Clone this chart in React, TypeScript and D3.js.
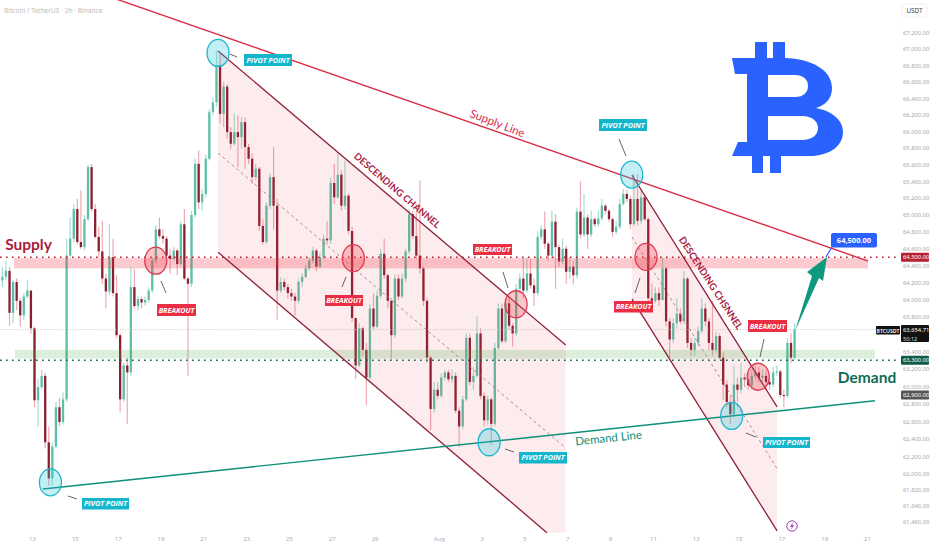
import React, { useEffect, useRef } from 'react';
import * as d3 from 'd3';

// 4h samples of the BTCUSDT candles. open = previous close
const firstOpen = 64250;
const closes = [
  64230, 64270, 64340, 63850, 64210, 63990, 63820, 64040, 64110, 63670, 62840, 62990, 63120, 62360, 61950, 62310,
  62760, 62590, 62850, 64520, 64720, 65070, 64680, 64620, 64950, 65570, 65070, 64740, 64570, 64250, 64100, 64500,
  64080, 63590, 62850, 63240, 63160, 64150, 63930, 64010, 63970, 64000, 64110, 64460, 64830, 64750, 64720, 64520,
  64480, 64580, 64420, 64890, 64250, 64190, 65000, 65610, 65150, 65250, 65670, 66230, 66350, 66800, 66210, 66540,
  65990, 65850, 65990, 65930, 66110, 65810, 65670, 65450, 65550, 64870, 64680, 65110, 65450, 65110, 64110, 64210,
  64150, 64080, 64040, 63990, 64210, 64270, 64370, 64460, 64580, 64390, 64500, 64720, 64700, 65380, 65210, 65480,
  65110, 65230, 64810, 63790, 63240, 63670, 63420, 63100, 63900, 63690, 64050, 64540, 64290, 63990, 63590, 64250,
  64040, 64250, 64570, 65010, 64750, 64520, 64370, 63990, 63330, 62740, 62960, 62890, 63100, 63160, 63080, 63120,
  62720, 62540, 62850, 63560, 63050, 63120, 63610, 62890, 62610, 62850, 62570, 63440, 63900, 63520, 63960, 63700,
  63610, 64130, 64250, 64110, 64310, 64170, 64080, 64740, 64830, 64660, 64520, 64920, 64620, 64450, 64600, 64330,
  64390, 64290, 65040, 64770, 64970, 64770, 64950, 64890, 64960, 65110, 65050, 64950, 64800, 64860, 65130, 65250,
  65190, 64890, 65190, 64930, 65210, 64950, 64020, 63990, 64080, 64000, 64370, 63750, 63540, 63730, 63840, 63750,
  64250, 63500, 63420, 63500, 63640, 63900, 63750, 63500, 63420, 63580, 63330, 63020, 62820, 62680, 63020, 62960,
  63100, 63080, 63010, 63120, 63160, 63100, 63120, 63050, 63020, 63160, 63170, 62900, 62890, 63500, 63330, 63654.71,
];
const highs = [
  64290, 64390, 64460, 64390, 64240, 64250, 64020, 64080, 64230, 63960, 63690, 63080, 63190, 63160, 62540, 62360,
  62820, 62870, 62930, 64720, 64970, 65130, 65190, 65290, 65000, 65600, 65610, 65130, 64860, 64930, 64310, 64890,
  64720, 64290, 63610, 63270, 63330, 64390, 64370, 64050, 64040, 64040, 64150, 64500, 64880, 64970, 64830, 64750,
  64600, 64620, 64600, 64930, 65070, 64270, 65050, 65670, 65770, 65310, 65720, 66270, 66410, 66980, 66940, 66600,
  66570, 66050, 66210, 66190, 66170, 66170, 65850, 65730, 65610, 65570, 64950, 65150, 65490, 65810, 65190, 64270,
  64250, 64190, 64130, 64080, 64250, 64310, 64410, 64500, 64620, 64600, 64550, 64770, 64930, 65450, 65610, 65730,
  65530, 65650, 65250, 64860, 63790, 63730, 63690, 63500, 63960, 64080, 64110, 64600, 64720, 64310, 64020, 64300,
  64300, 64310, 64600, 65070, 65050, 65130, 65410, 64390, 64020, 63350, 63050, 63050, 63150, 63190, 63190, 63190,
  63160, 62760, 62890, 63610, 63610, 63220, 63810, 63670, 62930, 62890, 62870, 63500, 63960, 63960, 64020, 64020,
  63730, 64190, 64310, 64500, 64500, 64480, 64250, 64810, 64880, 65040, 64680, 65050, 65010, 64650, 64720, 64640,
  64500, 64460, 65090, 65400, 65250, 65010, 65050, 64970, 65050, 65190, 65130, 65070, 64970, 64930, 65190, 65310,
  65290, 65230, 65490, 65490, 65310, 65250, 64970, 64190, 64150, 64150, 64500, 64390, 63790, 63790, 64020, 63900,
  64340, 64270, 63560, 63560, 63690, 64020, 63960, 63790, 63990, 63630, 63610, 63390, 63070, 62890, 63240, 63100,
  63270, 63150, 63160, 63190, 63240, 63220, 63190, 63190, 63100, 63220, 63240, 63190, 62960, 63560, 63610, 63730,
];
const lows = [
  64130, 64150, 64230, 63700, 63730, 63880, 63690, 63770, 64020, 63610, 62760, 62540, 62960, 62290, 61870, 61870,
  62290, 62540, 62560, 62820, 64500, 64680, 64650, 64600, 64580, 64930, 65040, 64720, 64500, 64190, 63900, 64060,
  64040, 63560, 62700, 62820, 62570, 63120, 63900, 63880, 63900, 63930, 63970, 64080, 64430, 64720, 64660, 64460,
  64310, 64460, 64290, 64390, 64230, 63120, 64150, 64970, 65070, 65050, 65210, 65650, 66190, 66290, 66090, 66050,
  65910, 65790, 65830, 65570, 65790, 65550, 65610, 65370, 65410, 64810, 64650, 64660, 65070, 64830, 63770, 64080,
  64110, 64020, 63990, 63820, 63960, 64150, 64250, 64340, 64430, 64340, 64370, 64480, 64650, 64660, 65130, 65190,
  65050, 65070, 64770, 63740, 63080, 63220, 63350, 62780, 63070, 63650, 63670, 64020, 64250, 63900, 63310, 63560,
  64000, 64020, 64210, 64540, 64720, 64480, 64310, 63930, 63270, 62500, 62700, 62850, 62870, 63070, 63050, 63040,
  62690, 62310, 62510, 62830, 63010, 62960, 63100, 62850, 62540, 62560, 62330, 62540, 63420, 63500, 63500, 63650,
  63460, 63580, 64080, 64020, 64080, 64130, 63930, 64040, 64700, 64600, 64460, 64480, 64130, 64390, 64420, 64190,
  64250, 64180, 64250, 64720, 64740, 64600, 64740, 64860, 64860, 64930, 65010, 64920, 64740, 64770, 64830, 65110,
  65150, 64830, 64860, 64880, 64890, 64930, 63960, 63900, 63960, 63930, 63990, 63690, 63330, 63500, 63670, 63720,
  63720, 63440, 63350, 63350, 63460, 63610, 63690, 63420, 63350, 63380, 63310, 62840, 62760, 62570, 62650, 62820,
  62920, 62990, 62960, 62960, 63080, 63050, 63040, 62960, 62960, 62990, 63120, 62870, 62760, 62870, 63270, 63310,
];

// axis ticks (63,600 sits under the last price flag in the picture)
const priceTicks = [
  67200, 67000, 66800, 66600, 66400, 66200, 66000, 65800, 65600, 65400, 65200, 65000, 64800, 64600, 64400, 64200,
  64000, 63800, 63400, 63200, 63000, 62800, 62600, 62400, 62200, 62000, 61820, 61640, 61460,
];
const dayTicks = [0, 2, 4, 6, 8, 10, 12, 14, 16, 19, 21, 23, 25, 27, 29, 31, 33, 35, 37, 39]; // days after Jul 13

// price levels
const lastPrice = 63654.71;
const supplyLevel = 64500;
const demandLevel = 63300;
const holdLevel = 62900;
const supplyZone = [64490, 64370];
const demandZone = [63420, 63320];

// drawings, as [day, price]
const supplyLineDays = [3.41, 39.05];
const supplyLinePrices = [67660, 64456];
const demandLineDays = [0.51, 39.37];
const demandLinePrices = [61830, 62834];

const ch1Days = [8.69, 24.93];
const ch1Upper = [66975, 63475];
const ch1Mid = [65739, 62294];
const ch1LowerDays = [8.69, 24.05];
const ch1Lower = [64560, 61340];

const ch2Days = [28.02, 34.8];
const ch2Upper = [65476, 62763];
const ch2Mid = [64740, 62060];
const ch2Lower = [64012, 61360];

const pivotDays = [8.69, 0.86, 21.35, 28.01, 32.68];
const pivotPrices = [66950, 61905, 62360, 65480, 62660];
const breakoutDays = [5.78, 15.01, 22.61, 28.68, 33.92];
const breakoutPrices = [64460, 64490, 63950, 64505, 63110];

const W = 932;
const H = 550;
const BTC_PATH =
  'M732 58 L755 58 L755 42 L767 42 L767 58 L773 58 L773 42 L785 42 L785 58 C812 59 832 70 832 88 C832 98 826 105 816 108 ' +
  'C832 111 843 120 843 132 C843 146 830 155 812 156 L781 156 L781 173 L770 173 L770 156 L763 156 L763 173 L752 173 L752 156 ' +
  'L732 156 L738 142 L747 142 L747 74 L735 74 Z ' +
  'M768 75 L768 97 L795 97 C804 97 808 92 808 86 C808 79 803 75 795 75 Z ' +
  'M768 116 L768 140 L802 140 C812 140 818 135 818 128 C818 121 812 116 802 116 Z';

const App: React.FC = () => {
  const svgRef = useRef<SVGSVGElement>(null);

  useEffect(() => {
    const svg = d3.select(svgRef.current);
    svg.selectAll('*').remove();

    const dayToDate = (d: number) => new Date(Date.UTC(2024, 6, 13) + d * 864e5);
    const x = d3.scaleUtc().domain([dayToDate(0), dayToDate(39)]).range([32, 867]);
    const y = d3.scaleLog().domain([67200, 62000]).range([32.5, 474]);
    const px = (d: number) => x(dayToDate(d));

    const candles = closes.map((c, i) => ({
      day: -1.55 + i / 6,
      open: i === 0 ? firstOpen : closes[i - 1],
      close: c,
      high: highs[i],
      low: lows[i],
    }));

    svg.append('rect').attr('width', W).attr('height', H).attr('fill', '#fff');

    // Wicks then bodies
    svg.append('g')
      .selectAll('line')
      .data(candles)
      .enter()
      .append('line')
      .attr('x1', d => px(d.day))
      .attr('x2', d => px(d.day))
      .attr('y1', d => y(d.high))
      .attr('y2', d => y(d.low))
      .attr('stroke', d => (d.close >= d.open ? '#a6ddd0' : '#efaab3'))
      .attr('stroke-width', 1.2);

    svg.append('g')
      .selectAll('rect')
      .data(candles)
      .enter()
      .append('rect')
      .attr('x', d => px(d.day) - 1.15)
      .attr('width', 2.3)
      .attr('y', d => y(Math.max(d.open, d.close)))
      .attr('height', d => Math.max(1, Math.abs(y(d.open) - y(d.close))))
      .attr('fill', d => (d.close >= d.open ? '#5dbfa6' : '#8a1f30'));

    const poly = d3.line<[number, number]>().x(d => px(d[0])).y(d => y(d[1]));

    // Channel fills
    const fillPts: [number, number][][] = [
      [
        [ch1Days[0], ch1Upper[0]],
        [ch1Days[1], ch1Upper[1]],
        [ch1Days[1], ch1Lower[1]],
        [ch1LowerDays[1], ch1Lower[1]],
        [ch1LowerDays[0], ch1Lower[0]],
      ],
      [
        [ch2Days[0], ch2Upper[0]],
        [ch2Days[1], ch2Upper[1]],
        [ch2Days[1], ch2Lower[1]],
        [ch2Days[0], ch2Lower[0]],
      ],
    ];
    fillPts.forEach(p => {
      svg.append('path').attr('d', poly(p) + 'Z').attr('fill', '#e0404f').attr('fill-opacity', 0.1);
    });

    // Zones
    svg.append('rect')
      .attr('x', 14)
      .attr('width', 854)
      .attr('y', y(supplyZone[0]))
      .attr('height', y(supplyZone[1]) - y(supplyZone[0]))
      .attr('fill', '#f23645')
      .attr('fill-opacity', 0.26);
    svg.append('rect')
      .attr('x', 15)
      .attr('width', 860)
      .attr('y', y(demandZone[0]))
      .attr('height', y(demandZone[1]) - y(demandZone[0]))
      .attr('fill', '#4caf50')
      .attr('fill-opacity', 0.2);

    // Horizontal levels
    const hline = (p: number, color: string, width: number, dash: string) =>
      svg.append('line')
        .attr('x1', 0)
        .attr('x2', 900)
        .attr('y1', y(p))
        .attr('y2', y(p))
        .attr('stroke', color)
        .attr('stroke-width', width)
        .attr('stroke-dasharray', dash);
    hline(lastPrice, '#c9c5c5', 1, '1 1.5');
    hline(supplyLevel, '#b81f35', 1.6, '1.6 4.4');
    hline(demandLevel, '#0f5c49', 1.6, '1.6 4.4');

    // Trend lines
    const trend = (days: number[], prices: number[], color: string, width: number, dash?: string) => {
      const pts = days.map((d, i) => [d, prices[i]] as [number, number]);
      svg.append('path')
        .attr('d', poly(pts))
        .attr('fill', 'none')
        .attr('stroke', color)
        .attr('stroke-width', width)
        .attr('stroke-dasharray', dash || null);
    };
    trend(ch1Days, ch1Upper, '#8f1f3a', 1.3);
    trend(ch1LowerDays, ch1Lower, '#8f1f3a', 1.3);
    trend(ch1Days, ch1Mid, '#a2707a', 0.8, '3 3');
    trend(ch2Days, ch2Upper, '#8f1f3a', 1.3);
    trend(ch2Days, ch2Lower, '#8f1f3a', 1.3);
    trend(ch2Days, ch2Mid, '#a2707a', 0.8, '3 3');
    trend(supplyLineDays, supplyLinePrices, '#d9304a', 1.4);
    trend(demandLineDays, demandLinePrices, '#0f8f78', 1.4);

    // Circles
    const circles = (days: number[], prices: number[], fill: string, stroke: string) =>
      svg.append('g')
        .selectAll('ellipse')
        .data(days)
        .enter()
        .append('ellipse')
        .attr('cx', d => px(d))
        .attr('cy', (_, i) => y(prices[i]))
        .attr('rx', 11)
        .attr('ry', 13.5)
        .attr('fill', fill)
        .attr('fill-opacity', 0.28)
        .attr('stroke', stroke)
        .attr('stroke-width', 1.3);
    circles(pivotDays, pivotPrices, '#26c6da', '#1fb6d0');
    circles(breakoutDays, breakoutPrices, '#f23645', '#e03a52');

    // Tags with their little connectors
    const tag = (text: string, bx: number, by: number, w: number, h: number, fill: string, c: number[]) => {
      svg.append('line')
        .attr('x1', c[0]).attr('y1', c[1]).attr('x2', c[2]).attr('y2', c[3])
        .attr('stroke', '#555').attr('stroke-width', 0.9);
      svg.append('rect').attr('x', bx).attr('y', by).attr('width', w).attr('height', h).attr('fill', fill);
      svg.append('text')
        .attr('x', bx + w / 2)
        .attr('y', by + h / 2 + 2.6)
        .attr('text-anchor', 'middle')
        .attr('font-family', '"Open Sans", sans-serif')
        .attr('font-size', 7.2)
        .attr('font-weight', 700)
        .attr('font-style', 'italic')
        .attr('fill', '#fff')
        .text(text);
    };
    const cyan = '#14b6cc';
    const red = '#ea2f45';
    tag('PIVOT POINT', 244, 54, 48, 12, cyan, [230, 54, 237, 57]);
    tag('PIVOT POINT', 82, 498, 47, 11.5, cyan, [68, 496, 77, 499]);
    tag('PIVOT POINT', 519, 452, 48, 11.5, cyan, [505, 449, 514, 452]);
    tag('PIVOT POINT', 599, 119, 48, 12, cyan, [619, 139, 626, 156]);
    tag('PIVOT POINT', 763, 437, 47, 11, cyan, [746, 433, 756, 437]);
    tag('BREAKOUT', 157, 304, 39, 12, red, [161, 281, 166, 293]);
    tag('BREAKOUT', 325, 295, 38, 11, red, [346, 277, 342, 287]);
    tag('BREAKOUT', 473, 244, 39, 11, red, [503, 272, 508, 288]);
    tag('BREAKOUT', 614, 301, 39, 11.5, red, [640, 278, 635, 293]);
    tag('BREAKOUT', 748, 320, 39, 12, red, [764, 339, 760, 357]);

    // Free text
    const label = (
      text: string,
      tx: number,
      ty: number,
      size: number,
      color: string,
      angle = 0,
      weight = 400,
      family = 'Lato, sans-serif'
    ) =>
      svg.append('text')
        .attr('transform', `translate(${tx},${ty}) rotate(${angle})`)
        .attr('text-anchor', 'middle')
        .attr('font-family', family)
        .attr('font-size', size)
        .attr('font-weight', weight)
        .attr('fill', color)
        .text(text);
    label('DESCENDING CHANNEL', 395, 193, 9.6, '#a82040', 40.5, 700);
    label('DESCENDING CHSNNEL', 708, 285, 9.6, '#a82040', 57, 700);
    label('Supply Line', 496, 127, 11.5, '#d9304a', 21);
    label('Demand Line', 609, 442, 11.5, '#0f8f78', -6);
    label('Supply', 28.5, 250, 15.5, '#a8203c', 0, 700);
    label('Demand', 867, 383, 15.5, '#0f6b57', 0, 700);

    // Target arrow and box
    svg.append('line')
      .attr('x1', 826).attr('y1', 257).attr('x2', 832).attr('y2', 247)
      .attr('stroke', '#2962ff').attr('stroke-width', 1.2);
    svg.append('path')
      .attr('d', 'M795 331 L812 276 L807 272 L827 257 L823 281 L819 278 Z')
      .attr('fill', '#0f9a80');
    svg.append('rect')
      .attr('x', 831).attr('y', 233).attr('width', 46).attr('height', 14.5)
      .attr('rx', 2).attr('fill', '#2962ff');
    svg.append('text')
      .attr('x', 854).attr('y', 243)
      .attr('text-anchor', 'middle')
      .attr('font-family', '"Open Sans", sans-serif')
      .attr('font-size', 7.5)
      .attr('font-weight', 700)
      .attr('fill', '#fff')
      .text(d3.format(',.2f')(supplyLevel));

    // Bitcoin logo
    svg.append('path').attr('d', BTC_PATH).attr('fill', '#2962ff').attr('fill-rule', 'evenodd');

    // Lightning badge
    svg.append('circle')
      .attr('cx', 792).attr('cy', 526).attr('r', 5.2)
      .attr('fill', '#fff').attr('stroke', '#9c27b0').attr('stroke-width', 0.9);
    svg.append('path')
      .attr('d', 'M793 522.5 L790 526.8 L792 526.8 L791 529.5 L794 525.2 L792 525.2 Z')
      .attr('fill', '#9c27b0');

    // Axes
    const xAxis = d3.axisBottom(x)
      .tickValues(dayTicks.map(dayToDate))
      .tickSize(0)
      .tickFormat(d => ((d as Date).getUTCDate() === 1 ? 'Aug' : d3.utcFormat('%-d')(d as Date)));
    const gx = svg.append('g').attr('transform', 'translate(0,534)').call(xAxis as any);
    gx.select('.domain').remove();
    gx.selectAll('text')
      .attr('font-family', '"Noto Sans", sans-serif')
      .attr('font-size', 6)
      .attr('fill', '#adadad');

    const yAxis = d3.axisRight(y).tickValues(priceTicks).tickSize(0).tickFormat(d3.format(',.2f') as any);
    const gy = svg.append('g').attr('transform', 'translate(903,0)').call(yAxis as any);
    gy.select('.domain').remove();
    gy.selectAll('text')
      .attr('x', 0)
      .attr('font-family', '"Noto Sans", sans-serif')
      .attr('font-size', 5.8)
      .attr('fill', '#a8a8a8');

    // Price flags on the axis
    const flag = (p: number, fill: string, h = 9, text = d3.format(',.2f')(p)) => {
      const top = y(p) - 4.5;
      svg.append('rect').attr('x', 901).attr('y', top).attr('width', 28).attr('height', h).attr('rx', 1).attr('fill', fill);
      svg.append('text')
        .attr('x', 903).attr('y', top + 6.7)
        .attr('font-family', '"Noto Sans", sans-serif')
        .attr('font-size', 5.8)
        .attr('fill', '#fff')
        .text(text);
    };
    flag(supplyLevel, '#b81f35');
    flag(demandLevel, '#0f5c49');
    flag(holdLevel, '#555');
    flag(lastPrice, '#111', 17);
    svg.append('text')
      .attr('x', 903).attr('y', y(lastPrice) + 11)
      .attr('font-family', '"Noto Sans", sans-serif')
      .attr('font-size', 5.6)
      .attr('fill', '#ddd')
      .text('50:12');
    svg.append('rect').attr('x', 876).attr('y', y(lastPrice) - 3.5).attr('width', 24).attr('height', 8.5).attr('rx', 1).attr('fill', '#111');
    svg.append('text')
      .attr('x', 888).attr('y', y(lastPrice) + 3)
      .attr('text-anchor', 'middle')
      .attr('font-family', '"Noto Sans", sans-serif')
      .attr('font-size', 5.2)
      .attr('font-weight', 600)
      .attr('fill', '#fff')
      .text('BTCUSDT');

    // Header and currency button
    svg.append('text')
      .attr('x', 4).attr('y', 12.5)
      .attr('font-family', '"Noto Sans", sans-serif')
      .attr('font-size', 6.6)
      .attr('fill', '#bcbcbc')
      .text('Bitcoin / TetherUS · 2h · Binance');
    svg.append('rect')
      .attr('x', 902).attr('y', 4).attr('width', 25).attr('height', 13).attr('rx', 2.5)
      .attr('fill', '#fff').attr('stroke', '#eeeeee').attr('stroke-width', 0.8);
    svg.append('text')
      .attr('x', 914.5).attr('y', 13)
      .attr('text-anchor', 'middle')
      .attr('font-family', '"Noto Sans", sans-serif')
      .attr('font-size', 6.4)
      .attr('fill', '#444')
      .text('USDT');
  }, []);

  return (
    <svg
      ref={svgRef}
      width={W}
      height={H}
      style={{ position: 'absolute', left: 0, top: 0, display: 'block' }}
    />
  );
};

export default App;
